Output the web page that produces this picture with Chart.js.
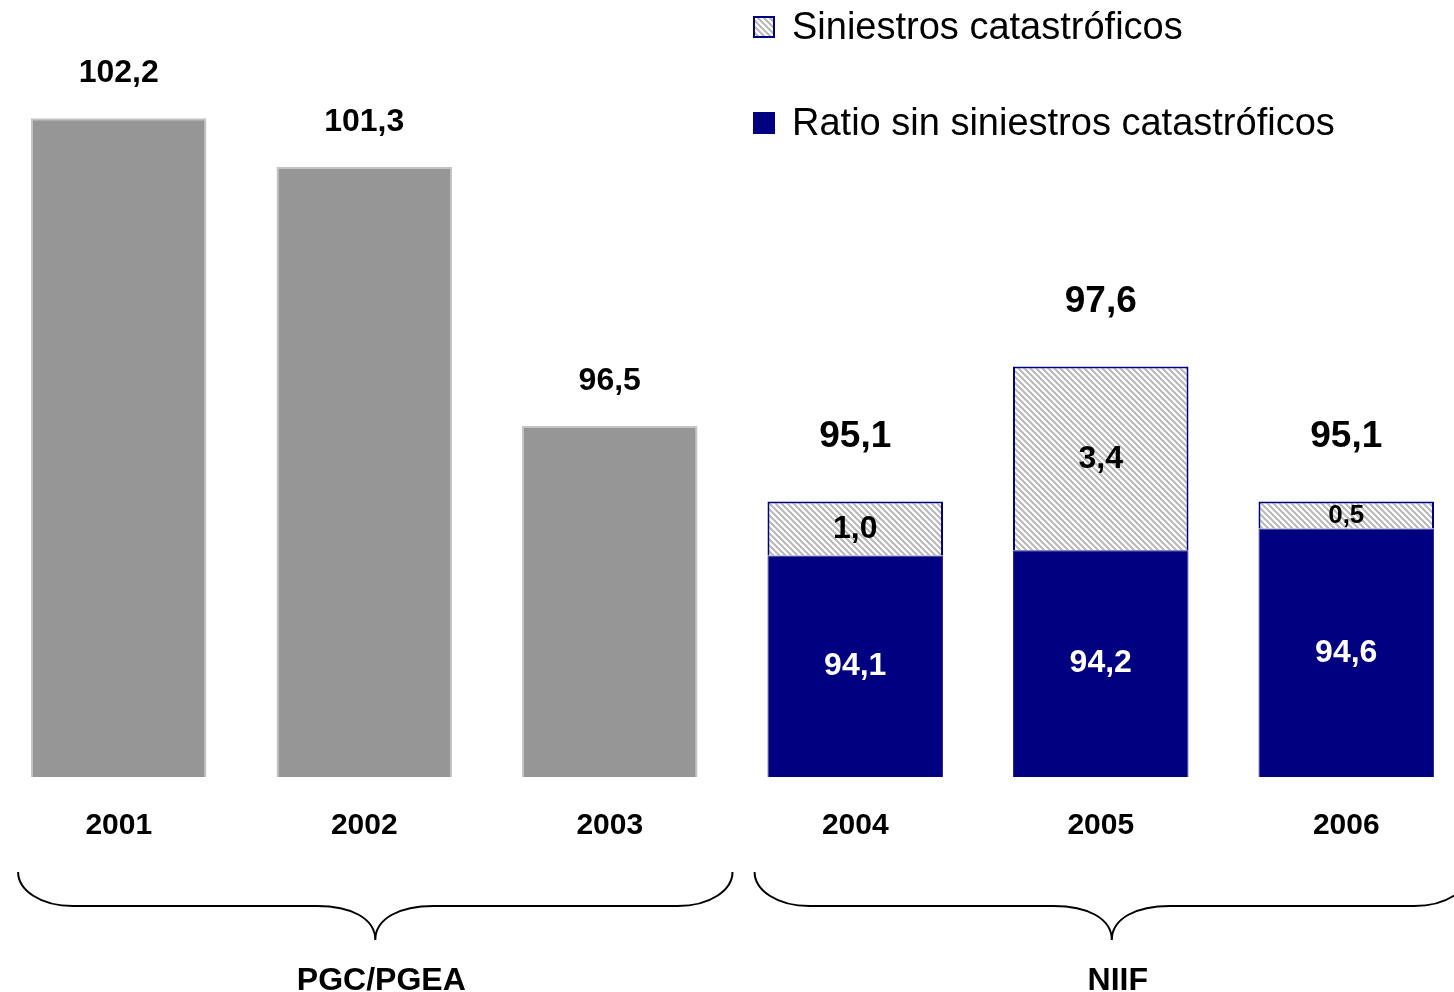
<!DOCTYPE html>
<html>
<head>
<meta charset="utf-8">
<title>Ratio combinado</title>
<script src="https://cdn.jsdelivr.net/npm/chart.js@4.4.0/dist/chart.umd.min.js"></script>
<style>
    html, body { margin: 0; padding: 0; background: #fff; overflow: hidden; }
    /* canvas is a bit wider than the window so that the first/last bars sit where they do in the original */
    #wrap { position: absolute; left: -4px; top: 0; width: 1473px; height: 992px; }
</style>
</head>
<body>
<div id="wrap"><canvas id="ratioChart"></canvas></div>
<script>
const years = ['2001', '2002', '2003', '2004', '2005', '2006'];
const ratioPgc = [102.2, 101.3, 96.5, null, null, null];      // gray bars (PGC/PGEA)
const ratioSinCat = [null, null, null, 94.1, 94.2, 94.6];     // navy part
const siniestrosCat = [null, null, null, 1.0, 3.4, 0.5];      // hatched part
const groupLabels = ['PGC/PGEA', 'NIIF'];
const groupRanges = [[0, 2], [3, 5]];
const legendLabels = ['Siniestros catastróficos', 'Ratio sin siniestros catastróficos'];

const FONT = '"Liberation Sans", Arial, sans-serif';
const NAVY = '#000080';
const fmt = (v) => v.toFixed(1).replace('.', ',');

const canvas = document.getElementById('ratioChart');
const ctx = canvas.getContext('2d');

// diagonal hatch for the catastrophic claims
const makeHatch = () => {
    const tile = document.createElement('canvas');
    tile.width = 6;
    tile.height = 6;
    const g = tile.getContext('2d');
    g.fillStyle = '#ffffff';
    g.fillRect(0, 0, 6, 6);
    g.strokeStyle = '#b8b8b8';
    g.lineWidth = 2;
    g.beginPath();
    for (let k = -1; k <= 1; k++) {
        g.moveTo(-1, 6 * k - 1);
        g.lineTo(7, 6 * k + 7);
    }
    g.stroke();
    return ctx.createPattern(tile, 'repeat');
};
const hatch = makeHatch();

const valueLabels = {
    id: 'valueLabels',
    afterDatasetsDraw(chart) {
        const c = chart.ctx;
        c.save();
        c.textAlign = 'center';
        c.textBaseline = 'middle';

        // gray bars: value above
        chart.getDatasetMeta(0).data.forEach((bar, i) => {
            if (ratioPgc[i] == null) return;
            c.fillStyle = '#000';
            c.font = `bold 32px ${FONT}`;
            c.fillText(fmt(ratioPgc[i]), bar.x, bar.y - 45);
        });

        const navyMeta = chart.getDatasetMeta(1).data;
        const catMeta = chart.getDatasetMeta(2).data;
        years.forEach((y, i) => {
            if (ratioSinCat[i] == null) return;
            const navy = navyMeta[i];
            const cat = catMeta[i];
            // navy value, white
            c.fillStyle = '#fff';
            c.font = `bold 32px ${FONT}`;
            c.fillText(fmt(ratioSinCat[i]), navy.x, (navy.y + Math.min(navy.base, chart.chartArea.bottom)) / 2);
            // catastrophic part, black
            const h = cat.base - cat.y;
            c.fillStyle = '#000';
            c.font = `bold ${h < 40 ? 26 : 32}px ${FONT}`;
            c.fillText(fmt(siniestrosCat[i]), cat.x, (cat.y + cat.base) / 2 + 1);
            // total above
            c.font = `bold 37px ${FONT}`;
            c.fillText(fmt(ratioSinCat[i] + siniestrosCat[i]), cat.x, cat.y - 65);
        });
        c.restore();
    }
};

const decorations = {
    id: 'decorations',
    afterDraw(chart) {
        const c = chart.ctx;
        const left = chart.chartArea.left;
        c.save();

        // legend, top right
        const lx = left + 757;
        const rows = [27, 123];
        legendLabels.forEach((txt, i) => {
            const y = rows[i];
            c.fillStyle = i === 0 ? hatch : NAVY;
            c.fillRect(lx, y - 11, 22, 22);
            if (i === 0) {
                c.strokeStyle = NAVY;
                c.lineWidth = 2;
                c.strokeRect(lx + 1, y - 10, 20, 20);
            }
            c.fillStyle = '#000';
            c.font = `38px ${FONT}`;
            c.textAlign = 'left';
            c.textBaseline = 'middle';
            c.fillText(txt, lx + 39, y + 2);
        });

        // curly braces under the years
        const xs = chart.scales.x;
        const step = xs.getPixelForValue(1) - xs.getPixelForValue(0);
        groupRanges.forEach(([a, b], gi) => {
            const x1 = xs.getPixelForValue(a) - step * 0.41;
            const x2 = xs.getPixelForValue(b) + step * 0.5;
            const tip = (x1 + x2) / 2;
            const yTop = 872, yMid = 906, yTip = 940;
            c.strokeStyle = '#000';
            c.lineWidth = 2;
            c.beginPath();
            c.moveTo(x1, yTop);
            c.bezierCurveTo(x1, yMid - 16, x1 + 22, yMid, x1 + 55, yMid);
            c.lineTo(tip - 58, yMid);
            c.bezierCurveTo(tip - 25, yMid, tip, yMid + 12, tip, yTip);
            c.bezierCurveTo(tip, yMid + 12, tip + 25, yMid, tip + 58, yMid);
            c.lineTo(x2 - 55, yMid);
            c.bezierCurveTo(x2 - 22, yMid, x2, yMid - 16, x2, yTop);
            c.stroke();

            c.fillStyle = '#000';
            c.font = `bold 32px ${FONT}`;
            c.textAlign = 'center';
            c.textBaseline = 'alphabetic';
            c.fillText(groupLabels[gi], tip + 6, 990);
        });
        c.restore();
    }
};

new Chart(ctx, {
    type: 'bar',
    data: {
        labels: years,
        datasets: [
            {
                label: 'Ratio PGC/PGEA',
                data: ratioPgc,
                backgroundColor: '#969696',
                borderColor: '#c4c4c4',
                borderWidth: 2,
                borderSkipped: false,
                stack: 'ratio',
            },
            {
                label: legendLabels[1],
                data: ratioSinCat,
                backgroundColor: NAVY,
                borderColor: '#2a2a96',
                borderWidth: 1,
                borderSkipped: false,
                stack: 'ratio',
            },
            {
                label: legendLabels[0],
                data: siniestrosCat,
                backgroundColor: hatch,
                borderColor: NAVY,
                borderWidth: 2,
                borderSkipped: 'bottom',
                stack: 'ratio',
            },
        ],
    },
    options: {
        responsive: true,
        maintainAspectRatio: false,
        animation: false,
        layout: { padding: { top: 21, bottom: 117, left: 0, right: 0 } },
        datasets: { bar: { categoryPercentage: 1, barPercentage: 0.715 } },
        plugins: {
            legend: { display: false },
            tooltip: { enabled: false },
        },
        scales: {
            x: {
                stacked: true,
                grid: { display: false, drawTicks: false },
                border: { display: false },
                ticks: {
                    color: '#000',
                    padding: 31,
                    font: { family: FONT, size: 30, weight: 'bold' },
                },
            },
            y: {
                stacked: true,
                display: false,
                min: 90,
                max: 104,
            },
        },
    },
    plugins: [valueLabels, decorations],
});
</script>
</body>
</html>
